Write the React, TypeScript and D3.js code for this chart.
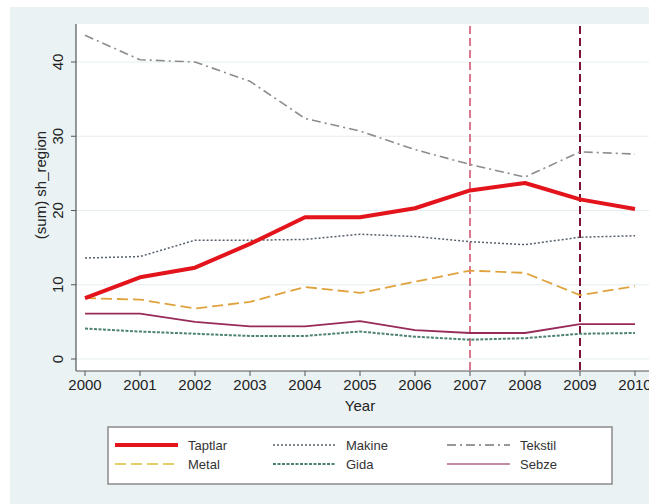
import React from "react";
import * as d3 from "d3";

const years = [2000, 2001, 2002, 2003, 2004, 2005, 2006, 2007, 2008, 2009, 2010];
const taptlar = [8.2, 11.0, 12.3, 15.5, 19.1, 19.1, 20.3, 22.7, 23.7, 21.5, 20.2];
const makine = [13.6, 13.8, 16.0, 16.0, 16.1, 16.8, 16.5, 15.8, 15.4, 16.4, 16.6];
const tekstil = [43.6, 40.3, 40.0, 37.4, 32.4, 30.7, 28.2, 26.2, 24.5, 27.9, 27.6];
const metal = [8.2, 8.0, 6.8, 7.7, 9.7, 8.9, 10.4, 11.9, 11.6, 8.6, 9.8];
const gida = [4.1, 3.7, 3.4, 3.1, 3.1, 3.7, 3.0, 2.6, 2.8, 3.4, 3.5];
const sebze = [6.1, 6.1, 5.0, 4.4, 4.4, 5.1, 3.9, 3.5, 3.5, 4.7, 4.7];
const yTicks = [0, 10, 20, 30, 40];
const refYears = [2007, 2009];

const W = 649;
const H = 504;
const font = "'Liberation Sans', Arial, sans-serif";

type Series = {
  name: string;
  values: number[];
  color: string;
  legendColor: string;
  width: number;
  dash?: string;
};

const series: Series[] = [
  { name: "Tekstil", values: tekstil, color: "#8c8c8c", legendColor: "#777", width: 1.6, dash: "9,4,2,4" },
  { name: "Makine", values: makine, color: "#56606a", legendColor: "#56606a", width: 1.5, dash: "2,2" },
  { name: "Metal", values: metal, color: "#dfa23c", legendColor: "#e3cf6a", width: 1.8, dash: "11,5" },
  { name: "Sebze", values: sebze, color: "#982a5a", legendColor: "#c98aa8", width: 1.8 },
  { name: "Gida", values: gida, color: "#4d8273", legendColor: "#4d8273", width: 2, dash: "3,1.5" },
  { name: "Taptlar", values: taptlar, color: "#e3141c", legendColor: "#e3141c", width: 4 },
];

const legendOrder = ["Taptlar", "Makine", "Tekstil", "Metal", "Gida", "Sebze"];

export default function App() {
  const x = d3.scaleLinear().domain([2000, 2010]).range([85, 635]);
  const y = d3.scaleLinear().domain([0, 40]).range([359, 62]);
  const axisX = 76;
  const axisY = 371;
  const plotTop = 24;

  const line = (vals: number[]) =>
    d3
      .line<number>()
      .x((_, i) => x(years[i]))
      .y((v) => y(v))(vals) || "";

  const legendCols = [115, 273, 447];
  const legendRows = [445, 464];

  return (
    <svg
      width={W}
      height={H}
      style={{ position: "absolute", left: 0, top: 0 }}
      fontFamily={font}
    >
      <rect x={0} y={0} width={W} height={H} fill="#ffffff" />
      <rect x={10} y={7} width={W - 10} height={H - 7} fill="#eaf2f4" />
      <rect x={axisX} y={plotTop} width={W - axisX} height={axisY - plotTop} fill="#ffffff" />

      {/* horizontal grid */}
      {yTicks.map((t) => (
        <line key={"g" + t} x1={axisX} x2={W} y1={y(t)} y2={y(t)} stroke="#e4edf0" strokeWidth={1.2} />
      ))}

      {/* reference years */}
      {refYears.map((ry, i) => (
        <line
          key={"r" + ry}
          x1={x(ry)}
          x2={x(ry)}
          y1={plotTop + 2}
          y2={axisY}
          stroke={i === 0 ? "#c8405c" : "#7c1234"}
          strokeWidth={i === 0 ? 1.4 : 2}
          strokeDasharray="8,4"
        />
      ))}

      {/* series */}
      {series.map((s) => (
        <path
          key={s.name}
          d={line(s.values)}
          fill="none"
          stroke={s.color}
          strokeWidth={s.width}
          strokeDasharray={s.dash}
          strokeLinejoin="round"
        />
      ))}

      {/* axes */}
      <line x1={axisX} x2={axisX} y1={plotTop} y2={axisY} stroke="#555" strokeWidth={1.2} />
      <line x1={axisX} x2={W} y1={axisY} y2={axisY} stroke="#555" strokeWidth={1.2} />
      {yTicks.map((t) => (
        <g key={"yt" + t}>
          <line x1={axisX - 5} x2={axisX} y1={y(t)} y2={y(t)} stroke="#555" strokeWidth={1} />
          <text
            transform={`translate(63,${y(t)}) rotate(-90)`}
            textAnchor="middle"
            fontSize={15}
            fill="#222"
          >
            {t}
          </text>
        </g>
      ))}
      {years.map((yr) => (
        <g key={"xt" + yr}>
          <line x1={x(yr)} x2={x(yr)} y1={axisY} y2={axisY + 5} stroke="#555" strokeWidth={1} />
          <text x={x(yr)} y={390} textAnchor="middle" fontSize={15} fill="#222">
            {yr}
          </text>
        </g>
      ))}
      <text x={x(2005)} y={411} textAnchor="middle" fontSize={15} fill="#222">
        Year
      </text>
      <text
        transform={`translate(46,185) rotate(-90)`}
        textAnchor="middle"
        fontSize={15}
        fill="#222"
      >
        (sum) sh_region
      </text>

      {/* legend */}
      <rect x={108} y={427} width={504} height={57} fill="#ffffff" stroke="#8a8a8a" strokeWidth={1.5} />
      {legendOrder.map((name, i) => {
        const s = series.find((d) => d.name === name)!;
        const cx = legendCols[i % 3];
        const cy = legendRows[Math.floor(i / 3)];
        return (
          <g key={"l" + name}>
            <line
              x1={cx}
              x2={cx + 63}
              y1={cy}
              y2={cy}
              stroke={s.legendColor}
              strokeWidth={s.width}
              strokeDasharray={s.dash}
            />
            <text x={cx + 73} y={cy + 5} fontSize={13} fill="#333">
              {name}
            </text>
          </g>
        );
      })}
    </svg>
  );
}
